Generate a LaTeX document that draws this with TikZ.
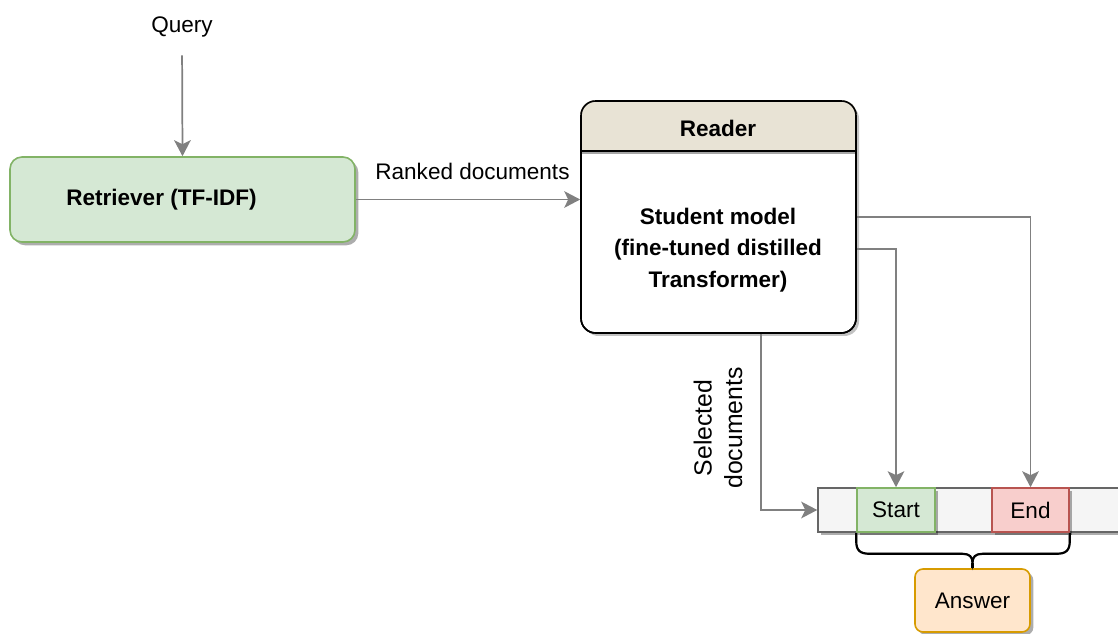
\documentclass[tikz,border=0pt]{standalone}
\usepackage{fontspec}
\setmainfont{Liberation Sans}
\usetikzlibrary{arrows.meta,shadows,calc}

\definecolor{greenfill}{HTML}{D5E8D4}
\definecolor{greenline}{HTML}{82B366}
\definecolor{redfill}{HTML}{F8CECC}
\definecolor{redline}{HTML}{B85450}
\definecolor{orangefill}{HTML}{FFE6CC}
\definecolor{orangeline}{HTML}{D79B00}
\definecolor{stripfill}{HTML}{F5F5F5}
\definecolor{stripline}{HTML}{666666}
\definecolor{headfill}{HTML}{E8E3D5}
\definecolor{wire}{HTML}{808080}

\tikzset{
  txt/.style={font=\fontsize{16.9}{20}\selectfont, inner sep=0pt},
  boldtxt/.style={font=\fontsize{16.9}{23.5}\selectfont\bfseries, inner sep=0pt, align=center},
  shade/.style={drop shadow={shadow xshift=2.5pt, shadow yshift=-2.5pt, opacity=0.32, fill=black}},
  retrbox/.style={draw=greenline, fill=greenfill, line width=1.2pt, rounded corners=9pt,
    minimum width=258.75pt, minimum height=63.75pt, inner sep=0pt, shade},
  readerbox/.style={draw=black, line width=1.2pt, rounded corners=11pt,
    minimum width=206.25pt, minimum height=174pt, inner sep=0pt},
  stripbox/.style={draw=stripline, fill=stripfill, line width=1.1pt,
    minimum width=230.25pt, minimum height=33pt, inner sep=0pt, shade},
  startbox/.style={draw=greenline, fill=greenfill, line width=1.2pt,
    minimum width=58.5pt, minimum height=33pt, inner sep=0pt, shade, font=\fontsize{16.9}{20}\selectfont},
  endbox/.style={draw=redline, fill=redfill, line width=1.2pt,
    minimum width=57.75pt, minimum height=33pt, inner sep=0pt, shade, font=\fontsize{16.9}{20}\selectfont},
  answerbox/.style={draw=orangeline, fill=orangefill, line width=1.2pt, rounded corners=6pt,
    minimum width=86.25pt, minimum height=47.25pt, inner sep=0pt, shade, font=\fontsize{16.9}{20}\selectfont},
  arr/.style={draw=wire, line width=1.3pt, -{Stealth[length=12pt, width=12.5pt, inset=3pt, fill=wire]}},
}

\begin{document}
\begin{tikzpicture}[x=0.75pt, y=-0.75pt]
  \useasboundingbox (0,0) rectangle (1118,634);

  % query and retriever
  \node[txt] (query) at (182,27) {Query};
  \node[retrbox, label={[txt, font=\fontsize{16.9}{20}\selectfont\bfseries, xshift=-15.75pt]center:Retriever (TF-IDF)}]
    (retr) at (182.5,199.5) {};

  % reader: shadow, white body, beige header, border
  \node[readerbox, draw=none, fill=black, opacity=0.24] at (721.5,220) {};
  \node[readerbox, fill=white] (reader) at (718.5,217) {};
  \begin{scope}
    \clip[rounded corners=11pt] (reader.south west) rectangle (reader.north east);
    \fill[headfill] (reader.north west) rectangle (reader.east |- 0,151);
  \end{scope}
  \draw[black!35, line width=2pt] (reader.west |- 0,153) -- (reader.east |- 0,153);
  \draw[black, line width=1.2pt] (reader.west |- 0,151) -- (reader.east |- 0,151);
  \node[readerbox] at (reader.center) {};
  \node[boldtxt] (readertitle) at (718,128) {Reader};
  \node[boldtxt] (student) at (718,250) {Student model\\(fine-tuned distilled\\Transformer)};

  % answer span strip
  \node[stripbox] (strip) at (971.5,510) {};
  \node[startbox] (start) at (896,510) {Start};
  \node[endbox] (end) at (1030.5,510) {End};
  \node[answerbox] (answer) at (972.5,600.5) {Answer};

  % brace joining start and end
  \coordinate (bl) at (start.south west);
  \coordinate (br) at (end.south east);
  \coordinate (tip) at (answer.north);
  \draw[black!30, line width=1.6pt, shift={(3pt,-3pt)}]
    (bl) -- ++(0,8) .. controls ++(0,10) and ++(-10,0) .. ($(bl)+(14,21)$)
    -- ($(tip |- bl)+(-10,21)$) .. controls ++(7,0) and ++(0,-6) .. ($(tip |- bl)+(0,30)$)
    .. controls ++(0,-6) and ++(-7,0) .. ($(tip |- bl)+(10,21)$)
    -- ($(br)+(-14,21)$) .. controls ++(10,0) and ++(0,10) .. ($(br)+(0,8)$) -- (br);
  \draw[black, line width=1.6pt]
    (bl) -- ++(0,8) .. controls ++(0,10) and ++(-10,0) .. ($(bl)+(14,21)$)
    -- ($(tip |- bl)+(-10,21)$) .. controls ++(7,0) and ++(0,-6) .. ($(tip |- bl)+(0,30)$)
    .. controls ++(0,-6) and ++(-7,0) .. ($(tip |- bl)+(10,21)$)
    -- ($(br)+(-14,21)$) .. controls ++(10,0) and ++(0,10) .. ($(br)+(0,8)$) -- (br);
  \draw[black, line width=1.6pt] ($(tip |- bl)+(0,30)$) -- (tip);

  % connectors
  \draw[arr, shorten <=13.5pt] (query.south) -- (retr.north);
  \draw[arr] (retr.east) -- (reader.west |- retr.east)
    node[txt, pos=0.52, above=14pt] (ranked) {Ranked documents};
  \draw[arr] (reader.east) -| (end.north);
  \draw[arr] ([yshift=-24pt]reader.east) -| (start.north);
  \draw[arr] ([xshift=31.9pt]reader.south) |- (strip.west);
  \node[txt, font=\fontsize{18.6}{23}\selectfont, rotate=90, align=center] (selected) at (718,428)
    {Selected\\documents};
\end{tikzpicture}
\end{document}
